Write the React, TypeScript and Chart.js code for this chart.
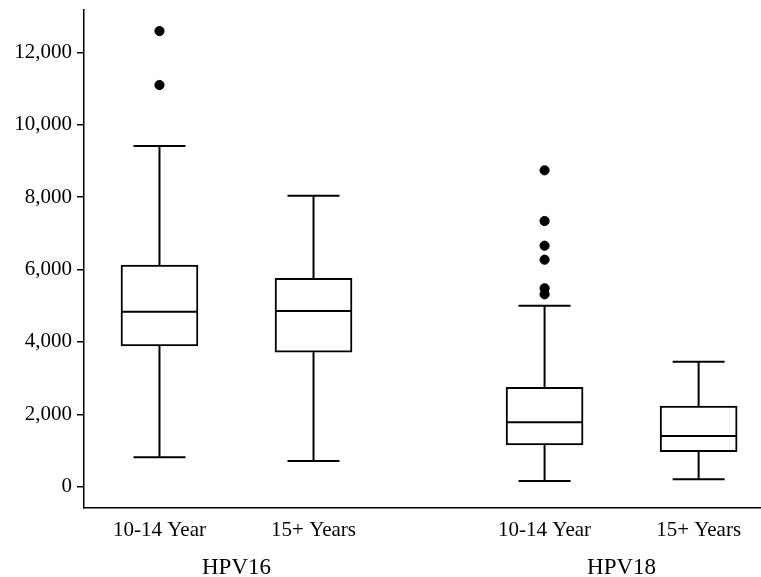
import React, { useEffect, useRef } from 'react';
import { Chart, registerables } from 'chart.js';

Chart.register(...registerables);

// ---- data ----
const groups = ['HPV16', 'HPV18'];
const ageGroups = ['10-14 Year', '15+ Years'];
const whiskerLow = [812, 710, 157, 204];
const q1 = [3887, 3713, 1152, 967];
const median = [4834, 4854, 1779, 1401];
const q3 = [6124, 5757, 2746, 2229];
const whiskerHigh = [9412, 8039, 5000, 3453];
const outliers = [[12588, 11097], [], [8740, 7340, 6657, 6271, 5481, 5315], []];
const yTicks = [0, 2000, 4000, 6000, 8000, 10000, 12000];

// ---- layout (computed, not data) ----
const GROUP_STEP = 2.5;
const boxPos = q1.map((_, i) => 1 + Math.floor(i / 2) * GROUP_STEP + (i % 2));
const boxLabels = q1.map((_, i) => ageGroups[i % 2]);
const groupPos = groups.map((_, g) => 1.5 + g * GROUP_STEP);
const BOX_PX = 77;
const CAP_PX = 52;
const X_MIN = 0.51;
const X_MAX = 4.905;
const FONT = "'Liberation Serif', 'Times New Roman', serif";

const whiskerPlugin = {
  id: 'whiskers',
  afterDatasetsDraw(chart: any) {
    const { ctx, scales } = chart;
    const x = scales.x;
    const y = scales.y;
    ctx.save();
    ctx.strokeStyle = '#000';
    ctx.lineWidth = 2;
    ctx.lineCap = 'butt';
    boxPos.forEach((p, i) => {
      const cx = x.getPixelForValue(p);
      const yq1 = y.getPixelForValue(q1[i]);
      const yq3 = y.getPixelForValue(q3[i]);
      const ylo = y.getPixelForValue(whiskerLow[i]);
      const yhi = y.getPixelForValue(whiskerHigh[i]);
      const ym = y.getPixelForValue(median[i]);
      ctx.beginPath();
      ctx.moveTo(cx, yq3);
      ctx.lineTo(cx, yhi);
      ctx.moveTo(cx, yq1);
      ctx.lineTo(cx, ylo);
      ctx.moveTo(cx - CAP_PX / 2, yhi);
      ctx.lineTo(cx + CAP_PX / 2, yhi);
      ctx.moveTo(cx - CAP_PX / 2, ylo);
      ctx.lineTo(cx + CAP_PX / 2, ylo);
      ctx.moveTo(cx - BOX_PX / 2 + 1, ym);
      ctx.lineTo(cx + BOX_PX / 2 - 1, ym);
      ctx.stroke();
    });
    ctx.restore();
  },
};

export default function App() {
  const ref = useRef<HTMLCanvasElement | null>(null);

  useEffect(() => {
    document.body.style.margin = '0';
    if (!ref.current) return;
    Chart.defaults.font.family = FONT;
    Chart.defaults.color = '#000';

    const boxData = boxPos.map((p, i) => ({ x: p, y: [q1[i], q3[i]] }));
    const outlierData: { x: number; y: number }[] = [];
    outliers.forEach((arr, i) => arr.forEach((v) => outlierData.push({ x: boxPos[i], y: v })));

    const chart = new Chart(ref.current, {
      type: 'bar',
      data: {
        datasets: [
          {
            type: 'bar',
            data: boxData as any,
            backgroundColor: '#fff',
            borderColor: '#000',
            borderWidth: 2,
            borderSkipped: false,
            barThickness: BOX_PX,
          } as any,
          {
            type: 'scatter',
            data: outlierData,
            backgroundColor: '#000',
            borderColor: '#000',
            pointRadius: 4.6,
            pointHoverRadius: 4.6,
            showLine: false,
          } as any,
        ],
      },
      options: {
        animation: false,
        responsive: true,
        maintainAspectRatio: false,
        layout: { autoPadding: false, padding: { top: 10, left: 0, right: 0, bottom: 0 } },
        plugins: { legend: { display: false }, tooltip: { enabled: false } },
        scales: {
          x: {
            type: 'linear',
            position: 'bottom',
            min: X_MIN,
            max: X_MAX,
            offset: false,
            afterBuildTicks: (axis: any) => {
              axis.ticks = boxPos.map((v) => ({ value: v }));
            },
            afterFit: (axis: any) => {
              axis.height = 38;
              axis.paddingLeft = 0;
              axis.paddingRight = 0;
            },
            ticks: {
              autoSkip: false,
              maxRotation: 0,
              padding: 10,
              font: { size: 21, family: FONT },
              color: '#000',
              callback: (_v: any, idx: number) => boxLabels[idx],
            },
            grid: { display: true, offset: false, drawOnChartArea: false, drawTicks: false },
            border: { display: true, color: '#000', width: 1.5 },
          },
          x2: {
            type: 'linear',
            position: 'bottom',
            min: X_MIN,
            max: X_MAX,
            offset: false,
            afterBuildTicks: (axis: any) => {
              axis.ticks = groupPos.map((v) => ({ value: v }));
            },
            afterFit: (axis: any) => {
              axis.height = 31;
              axis.paddingLeft = 0;
              axis.paddingRight = 0;
            },
            ticks: {
              autoSkip: false,
              maxRotation: 0,
              padding: 0,
              font: { size: 23, family: FONT },
              color: '#000',
              callback: (_v: any, idx: number) => groups[idx],
            },
            grid: { display: false, offset: false },
            border: { display: false },
          },
          y: {
            type: 'linear',
            min: -590,
            max: 13170,
            afterBuildTicks: (axis: any) => {
              axis.ticks = yTicks.map((v) => ({ value: v }));
            },
            afterFit: (axis: any) => {
              axis.width = 84;
              axis.paddingTop = 0;
              axis.paddingBottom = 0;
            },
            ticks: {
              padding: 5,
              font: { size: 21, family: FONT },
              color: '#000',
              callback: (v: any) => Number(v).toLocaleString('en-US'),
            },
            grid: {
              display: true,
              drawOnChartArea: false,
              drawTicks: true,
              tickLength: 7,
              color: '#000',
              lineWidth: 1.5,
            },
            border: { display: true, color: '#000', width: 1.5 },
          },
        },
      } as any,
      plugins: [whiskerPlugin],
    });
    return () => chart.destroy();
  }, []);

  return (
    <div style={{ position: 'relative', width: 761, height: 577, background: '#fff' }}>
      <canvas ref={ref} />
    </div>
  );
}
